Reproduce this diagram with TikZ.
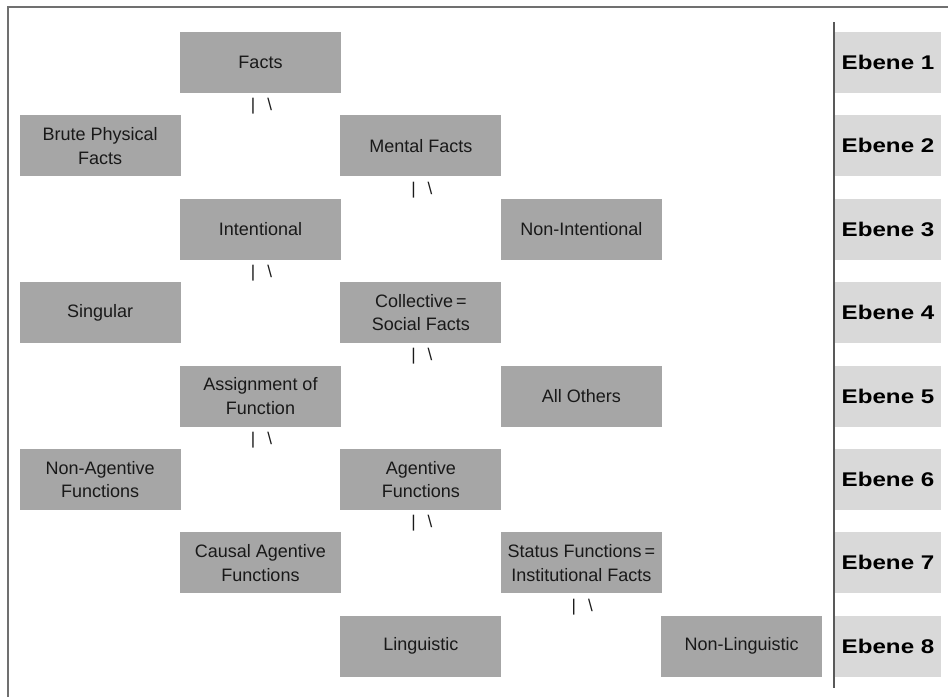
\documentclass[tikz,border=0pt]{standalone}
\usepackage{fontspec}
\setmainfont{Liberation Sans}
\newfontfamily\ebenefont[FakeStretch=1.22]{Liberation Sans}
\usetikzlibrary{positioning}
\definecolor{boxgray}{HTML}{A6A6A6}
\definecolor{ebenegray}{HTML}{D9D9D9}
\definecolor{framegray}{HTML}{707070}

\begin{document}
\begin{tikzpicture}[
    x=1pt, y=-1pt,
    box/.style={rectangle, fill=boxgray, minimum width=161pt, minimum height=61pt, inner sep=0pt, align=center, text=black!90, font=\fontsize{18}{23.5}\selectfont},
    ebene/.style={rectangle, fill=ebenegray, minimum width=106pt, minimum height=61pt, inner sep=0pt, text=black, font=\ebenefont\bfseries\fontsize{19.8}{23}\selectfont},
    branch/.style={inner sep=0pt, text=black!90, font=\fontsize{17}{17}\selectfont},
    node distance=22pt and -1pt
]
\useasboundingbox (0,0) rectangle (948,697);

% Frame and separator
\draw[framegray, line width=1.2pt] (8,697) |- (948,7);
\draw[black!65, line width=1.2pt] (834,22) -- (834,688);

% Taxonomy
\node[box] (facts) at (260.5,62.5) {Facts};
\node[box, below left=of facts] (brute) {Brute Physical\\Facts};
\node[box, below right=of facts] (mental) {Mental Facts};
\node[box, below left=of mental] (intentional) {Intentional};
\node[box, below right=of mental] (nonintentional) {Non-Intentional};
\node[box, below left=of intentional] (singular) {Singular};
\node[box, below right=of intentional] (collective) {Collective\,=\\Social Facts};
\node[box, below left=of collective] (assignment) {Assignment of\\Function};
\node[box, below right=of collective] (others) {All Others};
\node[box, below left=of assignment] (nonagentive) {Non-Agentive\\Functions};
\node[box, below right=of assignment] (agentive) {Agentive\\Functions};
\node[box, below left=of agentive] (causal) {Causal Agentive\\Functions};
\node[box, below right=of agentive] (status) {Status Functions\,=\\Institutional Facts};
\node[box, below left=of status] (linguistic) {Linguistic};
\node[box, below right=of status] (nonlinguistic) {Non-Linguistic};

% Branch marks
\node[branch, below=5pt of facts, xshift=1pt] (split1) {|\hspace{12pt}\textbackslash};
\node[branch, below=5pt of mental, xshift=1pt] (split2) {|\hspace{12pt}\textbackslash};
\node[branch, below=5pt of intentional, xshift=1pt] (split3) {|\hspace{12pt}\textbackslash};
\node[branch, below=5pt of collective, xshift=1pt] (split4) {|\hspace{12pt}\textbackslash};
\node[branch, below=5pt of assignment, xshift=1pt] (split5) {|\hspace{12pt}\textbackslash};
\node[branch, below=5pt of agentive, xshift=1pt] (split6) {|\hspace{12pt}\textbackslash};
\node[branch, below=5pt of status, xshift=1pt] (split7) {|\hspace{12pt}\textbackslash};

% Levels
\node[ebene] (ebene1) at (888,62.5) {Ebene 1};
\node[ebene, below=of ebene1] (ebene2) {Ebene 2};
\node[ebene, below=of ebene2] (ebene3) {Ebene 3};
\node[ebene, below=of ebene3] (ebene4) {Ebene 4};
\node[ebene, below=of ebene4] (ebene5) {Ebene 5};
\node[ebene, below=of ebene5] (ebene6) {Ebene 6};
\node[ebene, below=of ebene6] (ebene7) {Ebene 7};
\node[ebene, below=of ebene7] (ebene8) {Ebene 8};

\end{tikzpicture}
\end{document}
